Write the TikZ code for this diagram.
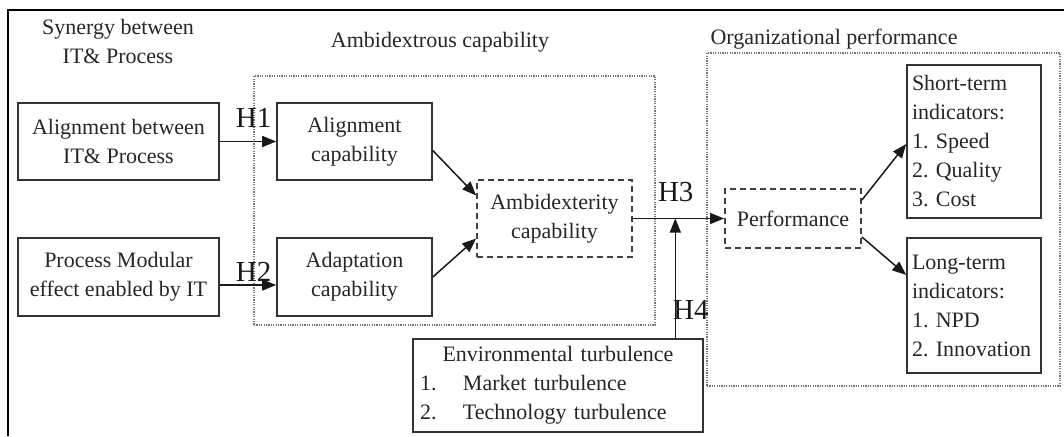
\documentclass[tikz,border=0pt]{standalone}
\usepackage{fontspec}
\setmainfont{Liberation Serif}
\frenchspacing
\usetikzlibrary{arrows.meta,calc}
\begin{document}
\begin{tikzpicture}[x=1pt,y=-1pt,
  every node/.style={font=\fontsize{22}{29}\selectfont, text=black!85},
  box/.style={draw=black!80, line width=1.6pt, inner sep=0pt, align=center},
  dbox/.style={draw=black!75, line width=1.8pt, dash pattern=on 6pt off 4pt, inner sep=0pt, align=center},
  group/.style={draw=black!55, line width=1.3pt, dash pattern=on 1.2pt off 1.2pt, inner sep=0pt},
  arr/.style={draw=black!90, line width=1.5pt, -{Triangle[length=14pt,width=11pt]}},
  hlab/.style={font=\fontsize{29}{32}\selectfont, inner sep=0pt, text=black!90},
  title/.style={align=center, inner sep=0pt}]
\useasboundingbox (0,0) rectangle (1064,436);

% frame
\draw[line width=2.2pt, black] (8,436) -- (8,10) -- (1064,10);

% group titles
\node[title] (t1) at (118,41) {Synergy between\\IT\& Process};
\node[title] (t2) at (440,42) {Ambidextrous capability};
\node[title] (t3) at (834,39) {Organizational performance};

% dotted groups
\node[group, minimum width=401pt, minimum height=249pt] (gA) at (454.5,200.5) {};
\node[group, minimum width=353pt, minimum height=333pt] (gO) at (883.5,219.5) {};

% constructs
\node[box, minimum width=201pt, minimum height=77pt] (ait) at (118.5,141.5) {Alignment between\\IT\& Process};
\node[box, minimum width=201pt, minimum height=78pt] (pm) at (118.5,277) {Process Modular\\effect enabled by IT};
\node[box, minimum width=155pt, minimum height=77pt] (alc) at (354.5,141.5) {Alignment\\capability};
\node[box, minimum width=155pt, minimum height=78pt] (adc) at (354.5,277) {Adaptation\\capability};
\node[dbox, minimum width=155pt, minimum height=77pt] (amb) at (554.5,218.5) {Ambidexterity\\capability};
\node[dbox, minimum width=136pt, minimum height=59pt] (perf) at (793,218.5) {Performance};
\node[box, minimum height=153pt, text width=124pt, inner xsep=5pt, align=left] (st) at (974,141.5)
  {Short-term\\indicators:\\1. Speed\\2. Quality\\3. Cost};
\node[box, minimum height=135pt, text width=124pt, inner xsep=5pt, align=left] (lt) at (974,305.5)
  {Long-term\\indicators:\\1. NPD\\2. Innovation};
\node[box, minimum height=93pt, text width=276pt, inner xsep=7pt, align=left] (env) at (558,385.5)
  {\makebox[\linewidth]{Environmental turbulence}\\
   \makebox[43pt][l]{1.}Market turbulence\\
   \makebox[43pt][l]{2.}Technology turbulence};

% hypotheses
\draw[arr] (ait.east) -- node[hlab, above=13pt, pos=0.6] {H1} (alc.west);
\draw[arr] ([yshift=-8pt]pm.east) -- node[hlab, above=3pt, pos=0.6] {H2} ([yshift=-8pt]adc.west);
\draw[arr] ([yshift=-9pt]alc.east) -- ([yshift=23pt]amb.west);
\draw[arr] (adc.east) -- ([yshift=-20pt]amb.west);
\draw[arr] (amb.east) -- coordinate[pos=0.465] (m) node[hlab, above=16pt, pos=0.47] {H3} (perf.west);
\draw[arr] (env.north -| m) -- node[hlab, anchor=base west, pos=0.16, xshift=-3pt] {H4} (m);
\draw[arr] ([yshift=18.5pt]perf.east) -- ([yshift=-2.5pt]st.west);
\draw[arr] ([yshift=-18.5pt]perf.east) -- ([yshift=30.5pt]lt.west);
\end{tikzpicture}
\end{document}
